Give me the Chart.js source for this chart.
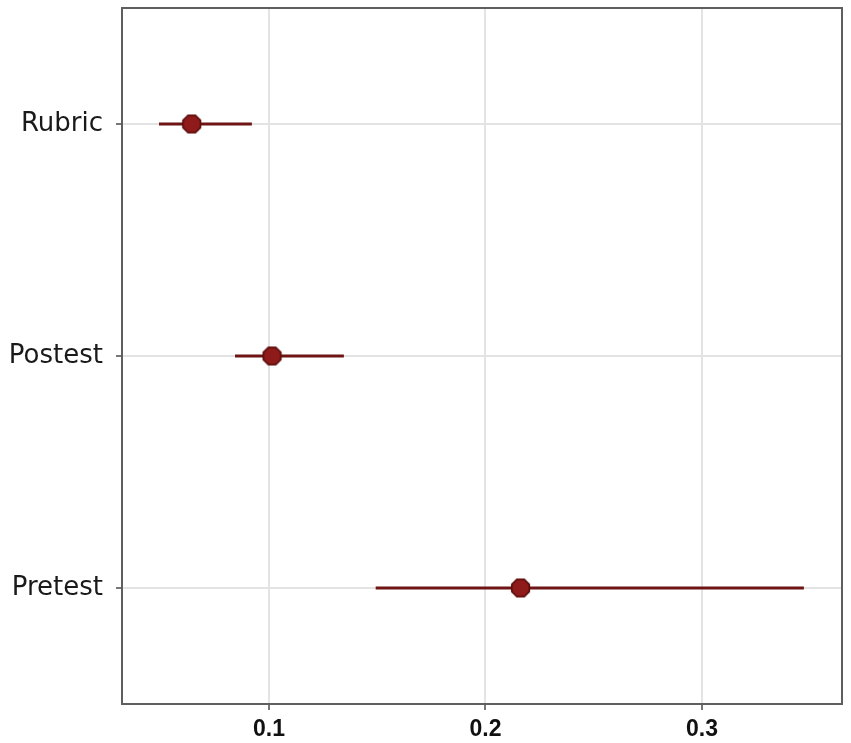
<!DOCTYPE html>
<html>
<head>
<meta charset="utf-8">
<script src="https://cdn.jsdelivr.net/npm/chart.js@4/dist/chart.umd.min.js"></script>
<style>
html,body{margin:0;padding:0;background:#fff;}
canvas{display:block;}
</style>
</head>
<body>
<canvas id="c" width="851" height="743"></canvas>
<script>
const categories = ["Rubric", "Postest", "Pretest"];
const estimates = [0.0643, 0.1014, 0.2162];
const lowers = [0.0492, 0.0843, 0.1493];
const uppers = [0.0921, 0.1346, 0.3471];
const xTicks = [0.1, 0.2, 0.3];

// octagon point marker
function octagon(size) {
  const cv = document.createElement('canvas');
  cv.width = size; cv.height = size;
  const ctx = cv.getContext('2d');
  const c = size / 2, r = size / 2 - 1;
  ctx.beginPath();
  for (let k = 0; k < 8; k++) {
    const a = Math.PI / 8 + k * Math.PI / 4;
    const px = c + r * Math.cos(a), py = c + r * Math.sin(a);
    if (k === 0) ctx.moveTo(px, py); else ctx.lineTo(px, py);
  }
  ctx.closePath();
  ctx.fillStyle = '#8e1a1a';
  ctx.fill();
  ctx.lineWidth = 1.6;
  ctx.strokeStyle = '#5a0d0d';
  ctx.stroke();
  return cv;
}
const marker = octagon(21);

const lineColor = '#6e1414';
const datasets = [];
categories.forEach((c, i) => {
  datasets.push({
    type: 'line',
    data: [{x: lowers[i], y: i + 1}, {x: uppers[i], y: i + 1}],
    borderColor: lineColor,
    borderWidth: 3,
    pointRadius: 0,
    fill: false,
    order: 2
  });
});
datasets.push({
  type: 'scatter',
  data: categories.map((c, i) => ({x: estimates[i], y: i + 1})),
  pointStyle: marker,
  pointRadius: 10,
  pointHoverRadius: 10,
  order: 1
});

const frame = {
  id: 'frame',
  afterDraw(chart) {
    const a = chart.chartArea, ctx = chart.ctx;
    ctx.save();
    ctx.strokeStyle = '#5f5f5f';
    ctx.lineWidth = 2;
    ctx.strokeRect(a.left, a.top, a.right - a.left, a.bottom - a.top);
    ctx.restore();
  }
};

new Chart(document.getElementById('c'), {
  type: 'scatter',
  data: {datasets},
  options: {
    responsive: false,
    animation: false,
    layout: {autoPadding: false, padding: {top: 8, right: 9, left: 0, bottom: 0}},
    plugins: {legend: {display: false}, tooltip: {enabled: false}},
    scales: {
      x: {
        type: 'linear',
        min: 0.0321,
        max: 0.3647,
        afterBuildTicks(s) { s.ticks = xTicks.map(v => ({value: v})); },
        afterFit(s) { s.height = 39; s.paddingLeft = 0; s.paddingRight = 0; },
        grid: {color: '#e3e3e3', lineWidth: 2, tickLength: 6, tickColor: '#777', drawTicks: true},
        border: {display: false},
        ticks: {
          padding: 6,
          color: '#111',
          font: {family: '"Liberation Sans Narrow", "Liberation Sans"', size: 23, weight: 'bold'},
          callback: v => v.toFixed(1)
        }
      },
      y: {
        type: 'linear',
        min: 0.5,
        max: 3.5,
        reverse: true,
        afterBuildTicks(s) { s.ticks = categories.map((c, i) => ({value: i + 1})); },
        afterFit(s) { s.width = 122; s.paddingTop = 0; s.paddingBottom = 0; },
        grid: {color: '#e3e3e3', lineWidth: 2, tickLength: 6, tickColor: '#777', drawTicks: true},
        border: {display: false},
        ticks: {
          padding: 13,
          color: '#1a1a1a',
          font: {family: '"DejaVu Sans"', size: 26},
          callback: v => categories[Math.round(v) - 1]
        }
      }
    }
  },
  plugins: [frame]
});
</script>
</body>
</html>
